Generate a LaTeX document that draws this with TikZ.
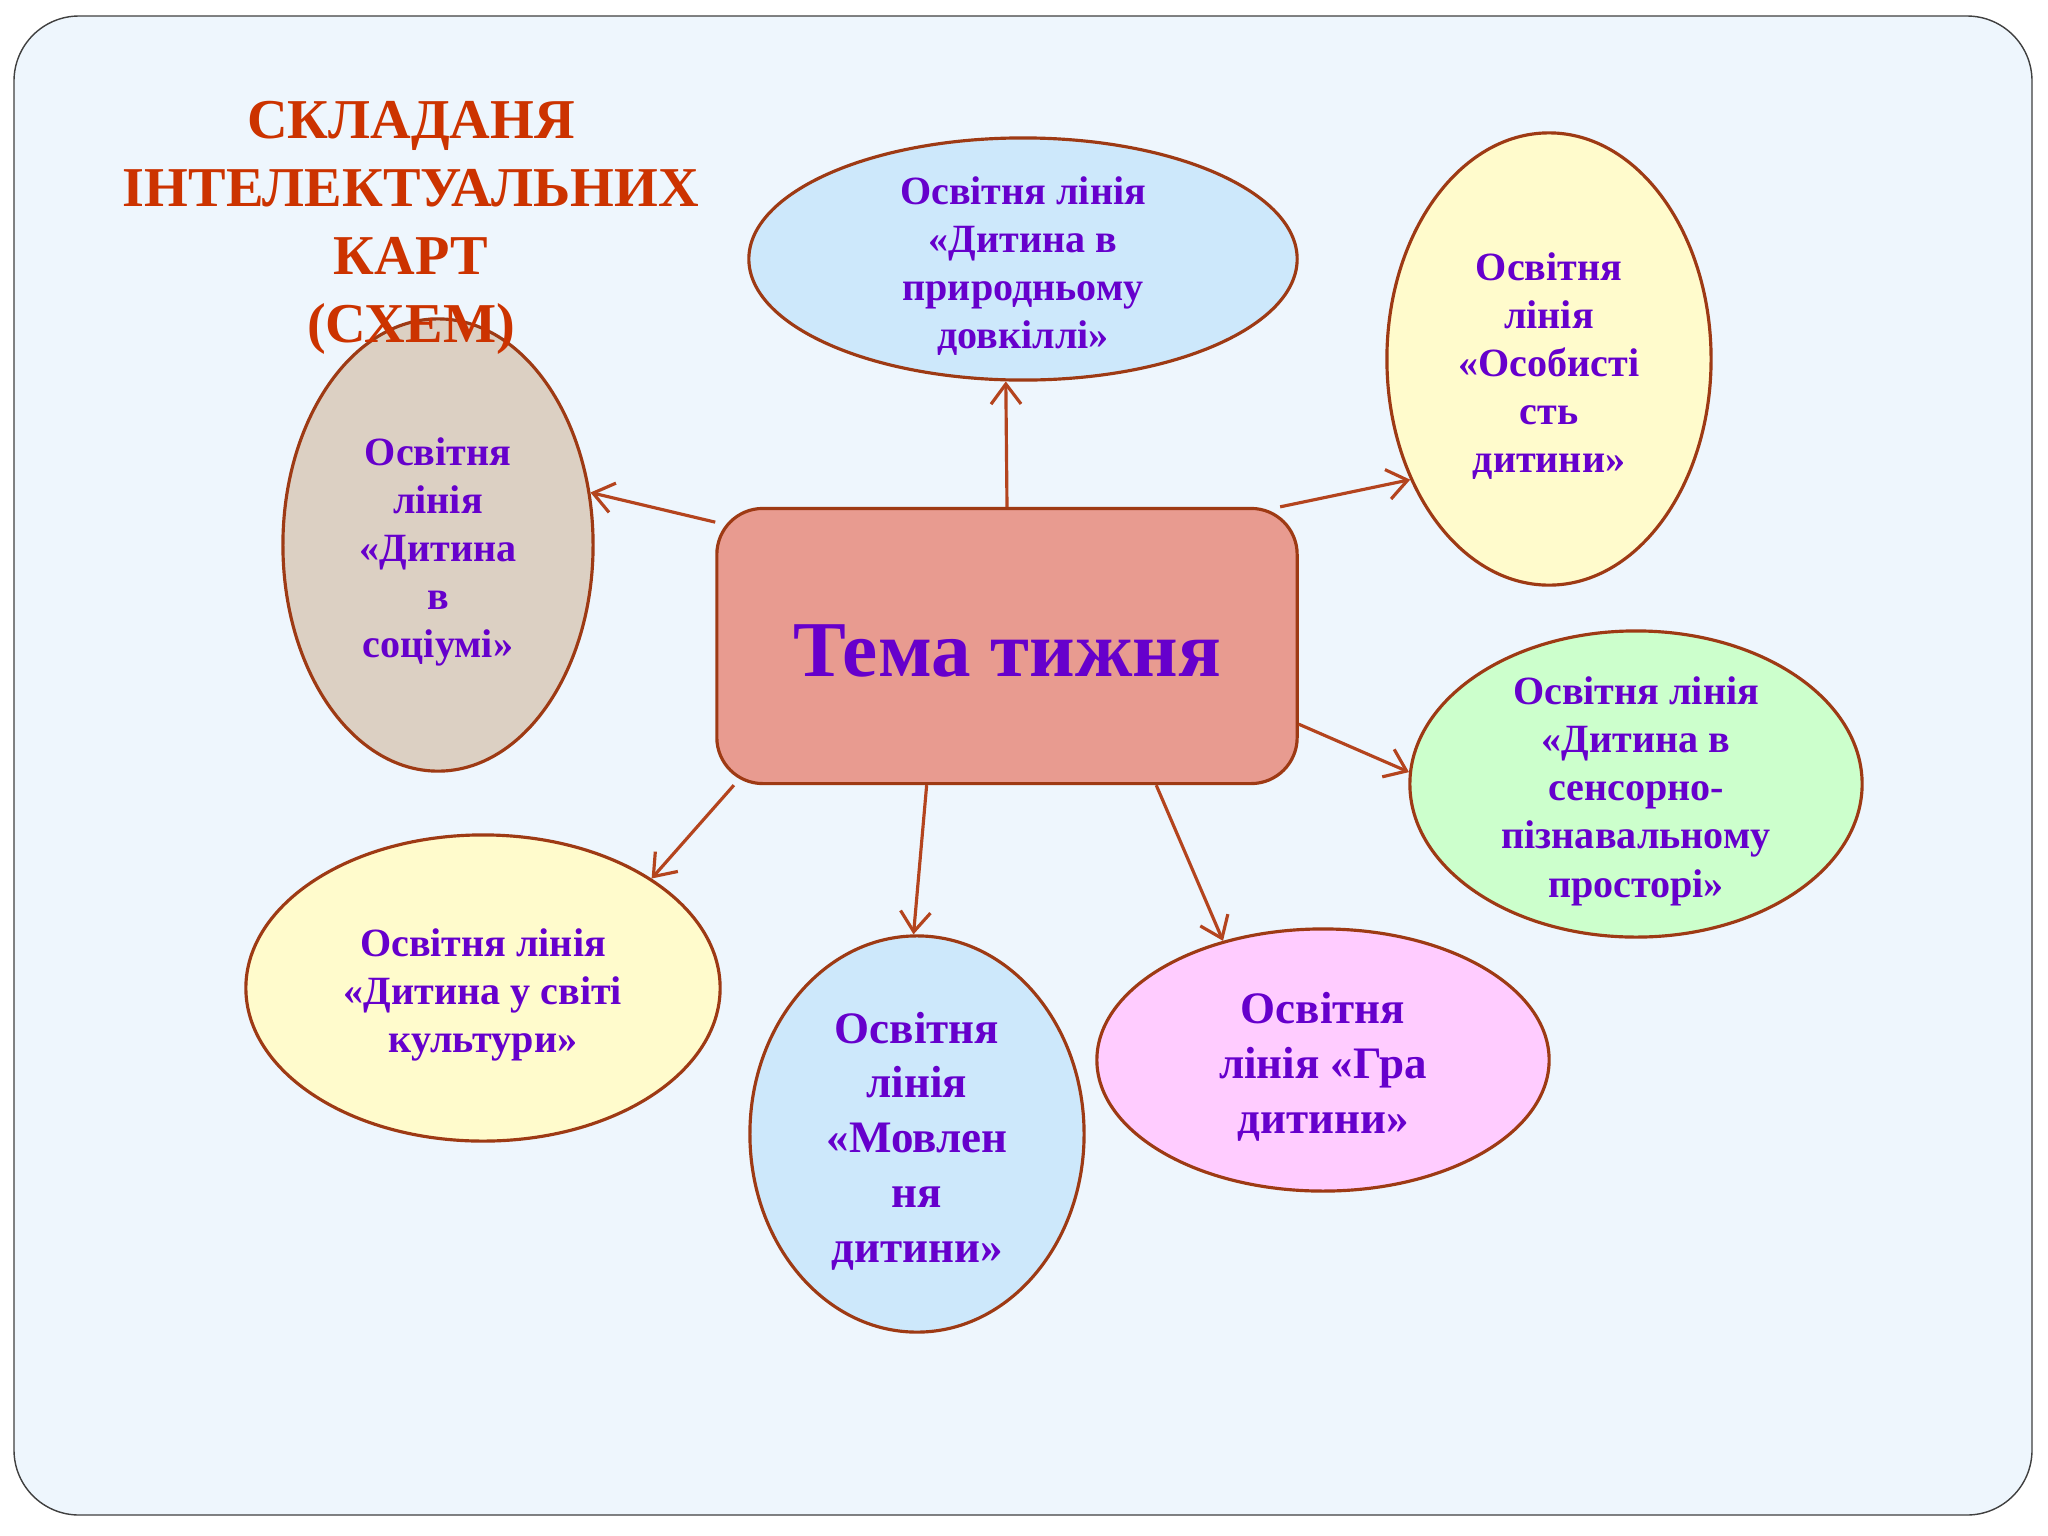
\documentclass[tikz,border=0pt]{standalone}
\usepackage{fontspec}
\setmainfont{Liberation Serif}
\usetikzlibrary{arrows.meta,shapes.geometric}

\definecolor{slidebg}{HTML}{EEF6FD}
\definecolor{titlered}{HTML}{CC3300}
\definecolor{textpurple}{HTML}{6600CC}
\definecolor{linebrown}{HTML}{9E3A14}
\definecolor{arrowbrown}{HTML}{B4441E}
\definecolor{salmonfill}{HTML}{E89B90}
\definecolor{skyfill}{HTML}{CDE8FB}
\definecolor{creamfill}{HTML}{FFFBCC}
\definecolor{beigefill}{HTML}{DCD0C3}
\definecolor{mintfill}{HTML}{CCFFCC}
\definecolor{pinkfill}{HTML}{FFCCFF}

\begin{document}
\begin{tikzpicture}[x=0.01cm,y=-0.01cm]
      \fill[white] (0,0) rectangle (2048,1536);
      \draw[draw=black!75,fill=slidebg,rounded corners=0.65cm] (14,16) rectangle (2032,1515);
      \begin{scope}[every node/.style={ellipse,draw=linebrown,line width=0.9pt,inner sep=0pt}]
        \node (nat)[fill=skyfill,minimum width=5.48cm,minimum height=2.42cm] at (1023,259) {};
        \node (pers)[fill=creamfill,minimum width=3.24cm,minimum height=4.52cm] at (1549,359) {};
        \node (soc)[fill=beigefill,minimum width=3.10cm,minimum height=4.52cm] at (438,545) {};
        \node (sens)[fill=mintfill,minimum width=4.52cm,minimum height=3.06cm] at (1636,784) {};
        \node (cult)[fill=creamfill,minimum width=4.74cm,minimum height=3.06cm] at (483,988) {};
        \node (mov)[fill=skyfill,minimum width=3.34cm,minimum height=3.96cm] at (917,1134) {};
        \node (gra)[fill=pinkfill,minimum width=4.52cm,minimum height=2.62cm] at (1323,1060) {};
      \end{scope}
      \node (tema)[draw=linebrown,line width=0.9pt,fill=salmonfill,rounded corners=0.46cm,
        minimum width=5.8cm,minimum height=2.75cm,text=textpurple,text height=17.6pt,text depth=0pt,
        font=\bfseries\fontsize{22.5}{27}\selectfont] at (1007,646) {Тема тижня};
      \begin{scope}[every node/.style={align=center,text=textpurple,yshift=-0.07cm,
          font=\bfseries\fontsize{11.4}{13.7}\selectfont}]
        \node (natT) at (nat) {Освітня лінія\\«Дитина в\\природньому\\довкіллі»};
        \node (persT) at (pers) {Освітня\\лінія\\«Особисті\\сть\\дитини»};
        \node (socT) at (soc) {Освітня\\лінія\\«Дитина\\в\\соціумі»};
        \node (sensT) at (sens) {Освітня лінія\\«Дитина в\\сенсорно-\\пізнавальному\\просторі»};
        \node (cultT) at (cult) {Освітня лінія\\«Дитина у світі\\культури»};
        \node (movT)[font=\bfseries\fontsize{12.8}{15.6}\selectfont] at (mov) {Освітня\\лінія\\«Мовлен\\ня\\дитини»};
        \node (graT)[font=\bfseries\fontsize{12.8}{15.6}\selectfont] at (gra) {Освітня\\лінія «Гра\\дитини»};
      \end{scope}
      \begin{scope}
        [every edge/.style={draw=arrowbrown,line width=0.9pt,-{Straight Barb[length=2mm,width=3mm]}}]
        \path (tema.90) edge (nat.262);
        \path (tema.27) edge (pers.221);
        \path (tema.157) edge (soc.19);
        \path (tema.-15) edge (sens.177);
        \path (tema.207) edge (cult.33);
        \path (tema.240) edge (mov.91);
        \path (tema.317) edge (gra.130);
      \end{scope}
      \node (title)[align=center,text=titlered,font=\bfseries\fontsize{16}{19.3}\selectfont]
        at (411,228) {СКЛАДАНЯ\\ІНТЕЛЕКТУАЛЬНИХ\\КАРТ\\(СХЕМ)};
    \end{tikzpicture}
\end{document}
